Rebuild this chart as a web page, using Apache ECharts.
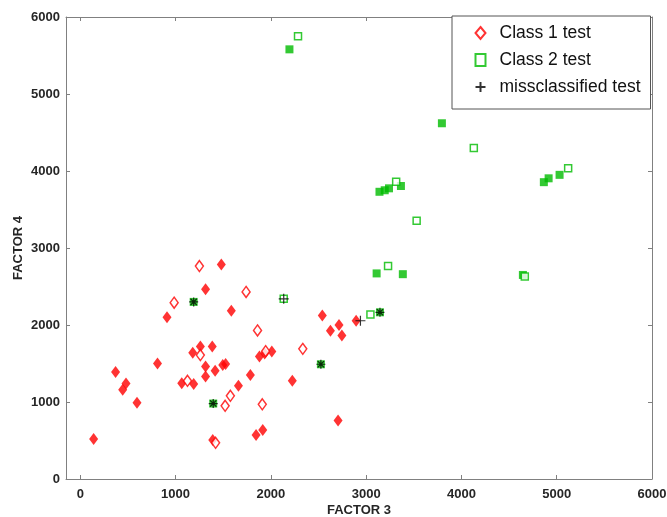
<!DOCTYPE html>
<html lang="en">
<head>
    <meta charset="UTF-8">
    <title>Factor 3 vs Factor 4</title>
    <script src="https://cdn.jsdelivr.net/npm/echarts@6/dist/echarts.min.js"></script>
    <style>
        html, body { margin: 0; padding: 0; background: #fff; }
    </style>
</head>
<body>
<div id="myDiv" style="width: 667px;height: 517px"></div>

<script>
    // tick labels
    var xTicks = [0, 1000, 2000, 3000, 4000, 5000, 6000];
    var yTicks = [0, 1000, 2000, 3000, 4000, 5000, 6000];

    // class 1 (red diamonds), filled = training points, open = test points
    var class1Filled = [
        [140, 520], [370, 1390], [480, 1240], [445, 1160], [595, 990], [810, 1500],
        [910, 2100], [1065, 1245], [1180, 1640], [1190, 1235], [1260, 1720], [1385, 1720],
        [1315, 2465], [1315, 1460], [1315, 1330], [1390, 505], [1415, 1405], [1480, 2785],
        [1495, 1480], [1525, 1495], [1585, 2185], [1660, 1210], [1785, 1350], [1845, 570],
        [1915, 635], [1880, 1590], [1935, 1630], [2010, 1655], [2225, 1275], [2540, 2125],
        [2715, 2000], [2625, 1925], [2745, 1865], [2705, 760], [2895, 2055]
    ];
    var class1Test = [
        [1250, 2765], [1740, 2430], [985, 2290], [1860, 1930], [1260, 1610], [1945, 1660],
        [1125, 1275], [1575, 1080], [1520, 950], [1910, 970], [1420, 470], [2335, 1690]
    ];

    // class 2 (green squares)
    var class2Filled = [
        [2195, 5580], [3795, 4620], [3140, 3730], [3195, 3750], [3240, 3775], [3365, 3805],
        [3110, 2670], [3385, 2660], [4865, 3855], [4915, 3905], [5030, 3950], [4645, 2650]
    ];
    var class2Test = [
        [2285, 5750], [4130, 4300], [3315, 3860], [3530, 3355], [3230, 2765], [5120, 4035],
        [4665, 2630], [3045, 2135], [2135, 2340]
    ];

    // misclassified test points
    var missPlus = [[2135, 2340], [2940, 2055]];
    var missStar = [[1190, 2300], [1395, 980], [2525, 1490], [3145, 2165]];

    var plusPath = 'path://M5,0V10M0,5H10';
    var starPath = 'path://M5,0V10M0,5H10M1.5,1.5L8.5,8.5M8.5,1.5L1.5,8.5';

    var missData = missPlus.map(function (p) {
        return {value: p};
    }).concat(missStar.map(function (p) {
        return {value: p, symbol: starPath, symbolSize: 9};
    }));

    var mainChart = echarts.init(document.getElementById("myDiv"));

    var plain = function (v) { return String(v); };
    var tickFont = {fontFamily: 'Liberation Sans', fontSize: 13, fontWeight: 'bold', color: '#262626'};
    var lineStyle = {color: '#808080', width: 1};

    var option = {
        animation: false,
        backgroundColor: '#fff',
        grid: {left: 66, right: 15, top: 17, bottom: 38, outerBoundsMode: 'none', containLabel: false},
        legend: {
            orient: 'vertical',
            left: 452,
            top: 16,
            padding: [8, 10, 13, 21],
            itemGap: 9,
            itemWidth: 10,
            itemHeight: 12,
            borderColor: '#555',
            borderWidth: 1,
            borderRadius: 0,
            backgroundColor: '#fff',
            textStyle: {fontFamily: 'Liberation Sans', fontSize: 17.5, color: '#111', padding: [0, 0, 0, 9]},
            data: ['Class 1 test', 'Class 2 test', 'missclassified test']
        },
        xAxis: [{
            type: 'value',
            min: -150,
            max: 6000,
            name: 'FACTOR 3',
            nameLocation: 'middle',
            nameGap: 25,
            nameMoveOverlap: false,
            nameTextStyle: {fontFamily: 'Liberation Sans', fontSize: 13, fontWeight: 'bold', color: '#262626'},
            splitLine: {show: false},
            axisLine: {show: true, onZero: false, lineStyle: lineStyle},
            axisTick: {show: true, inside: true, length: 4, customValues: xTicks, lineStyle: lineStyle},
            axisLabel: Object.assign({customValues: xTicks, margin: 9, formatter: plain}, tickFont)
        }, {
            type: 'value',
            position: 'top',
            min: -150,
            max: 6000,
            splitLine: {show: false},
            axisLine: {show: true, onZero: false, lineStyle: lineStyle},
            axisTick: {show: true, inside: true, length: 4, customValues: xTicks, lineStyle: lineStyle},
            axisLabel: {show: false}
        }],
        yAxis: [{
            type: 'value',
            min: 0,
            max: 6000,
            name: 'FACTOR 4',
            nameLocation: 'middle',
            nameGap: 41,
            nameMoveOverlap: false,
            nameTextStyle: {fontFamily: 'Liberation Sans', fontSize: 13, fontWeight: 'bold', color: '#262626'},
            splitLine: {show: false},
            axisLine: {show: true, onZero: false, lineStyle: lineStyle},
            axisTick: {show: true, inside: true, length: 4, customValues: yTicks, lineStyle: lineStyle},
            axisLabel: Object.assign({customValues: yTicks, margin: 6, formatter: plain}, tickFont)
        }, {
            type: 'value',
            position: 'right',
            min: 0,
            max: 6000,
            splitLine: {show: false},
            axisLine: {show: true, onZero: false, lineStyle: lineStyle},
            axisTick: {show: true, inside: true, length: 4, customValues: yTicks, lineStyle: lineStyle},
            axisLabel: {show: false}
        }],
        series: [
            {
                name: 'Class 1 train',
                type: 'scatter',
                symbol: 'diamond',
                symbolSize: [9, 12],
                itemStyle: {color: '#ff0000'},
                data: class1Filled
            },
            {
                name: 'Class 1 test',
                type: 'scatter',
                symbol: 'diamond',
                symbolSize: [8, 11],
                itemStyle: {color: '#fff', borderColor: '#ff0000', borderWidth: 1.5},
                data: class1Test
            },
            {
                name: 'Class 2 train',
                type: 'scatter',
                symbol: 'rect',
                symbolSize: 8,
                itemStyle: {color: '#00bb00'},
                data: class2Filled.concat(missStar)
            },
            {
                name: 'Class 2 test',
                type: 'scatter',
                symbol: 'rect',
                symbolSize: 7,
                itemStyle: {color: '#fff', borderColor: '#00bb00', borderWidth: 1.5},
                data: class2Test
            },
            {
                name: 'missclassified test',
                type: 'scatter',
                symbol: plusPath,
                symbolSize: 10,
                itemStyle: {color: 'none', borderColor: '#000', borderWidth: 1.2},
                data: missData
            }
        ]
    };
    mainChart.setOption(option);
</script>
</body>
</html>
